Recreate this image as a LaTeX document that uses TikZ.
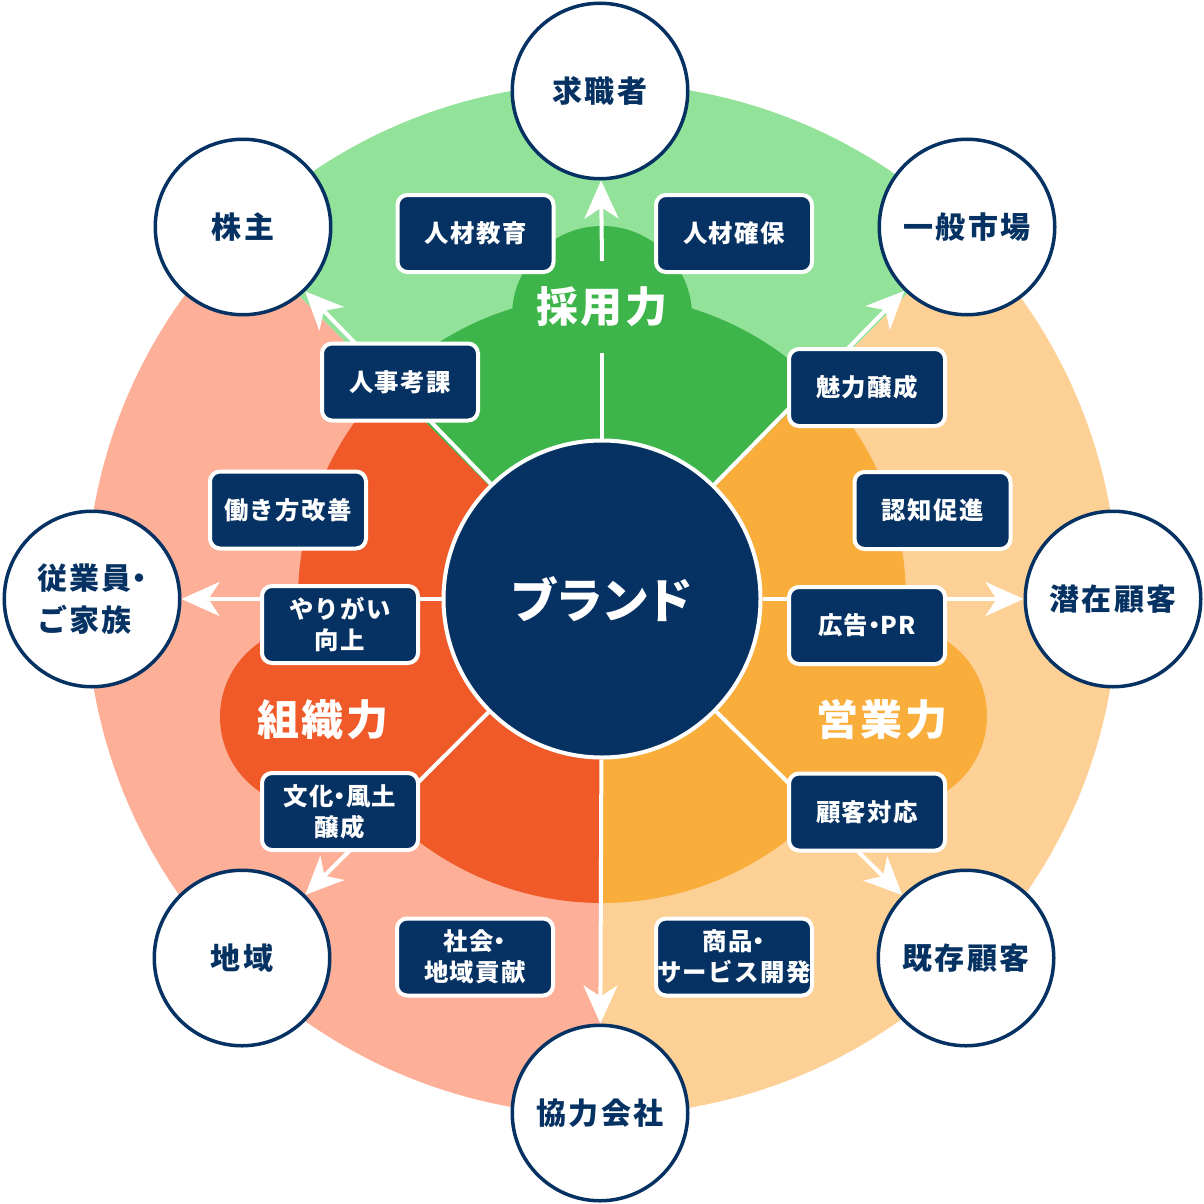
\documentclass[tikz,border=0pt]{standalone}
\usepackage{fontspec}
\setmainfont{Noto Sans CJK JP}
\newfontfamily\jp{Noto Sans CJK JP}[LetterSpace=6]
\newfontfamily\jpwide{Noto Sans CJK JP}[LetterSpace=8]
\newfontfamily\jpbrand{Noto Sans CJK JP}[RawFeature=+palt,LetterSpace=4]
\newcommand\nrdot{\kern-0.25em・\kern-0.25em}
\usetikzlibrary{arrows.meta}
\definecolor{navy}{RGB}{5,50,98}
\definecolor{lgreen}{RGB}{147,226,154}
\definecolor{dgreen}{RGB}{61,181,74}
\definecolor{lorange}{RGB}{253,208,149}
\definecolor{dorange}{RGB}{249,174,60}
\definecolor{lsalmon}{RGB}{253,175,152}
\definecolor{dred}{RGB}{240,90,40}
\tikzset{
  brandnode/.style={circle, fill=navy, draw=white, line width=2pt, minimum size=158.5pt, inner sep=0pt, text=white, font=\jpbrand\bfseries\fontsize{24}{28}\selectfont},
  outernode/.style={circle, fill=white, draw=navy, line width=1.75pt, minimum size=87.75pt, inner sep=0pt, text=navy, align=center, font=\jpwide\bfseries\fontsize{15}{21}\selectfont},
  boxnode/.style={rectangle, rounded corners=5pt, fill=navy, draw=white, line width=2pt, minimum width=78pt, minimum height=38.5pt, inner sep=0pt, text=white, align=center, font=\jp\bfseries\fontsize{12.2}{15.5}\selectfont},
  sectorlabel/.style={text=white, inner sep=0pt, font=\jp\bfseries\fontsize{21}{24}\selectfont},
  wline/.style={draw=white, line width=2pt},
  warrow/.style={draw=white, line width=2pt, -{Stealth[length=19pt, width=17pt, inset=5.5pt]}}
}
\begin{document}
\begin{tikzpicture}[x=0.5pt,y=0.5pt]
\useasboundingbox (0,0) rectangle (1204,-1204);
\fill[white] (0,0) rectangle (1204,-1204);
\coordinate (C) at (602,-599);
% outer ring sectors
\fill[lgreen] (C) -- ++(45:516) arc[start angle=45, end angle=135, radius=516] -- cycle;
\fill[lorange] (C) -- ++(-90:516) arc[start angle=-90, end angle=45, radius=516] -- cycle;
\fill[lsalmon] (C) -- ++(135:516) arc[start angle=135, end angle=270, radius=516] -- cycle;
% inner darker shapes
\fill[dgreen] (C) -- ++(45:304) arc[start angle=45, end angle=135, radius=304] -- cycle;
\fill[dgreen] (602,-316) circle[radius=90];
\fill[dorange] (C) -- ++(-90:304) arc[start angle=-90, end angle=45, radius=304] -- cycle;
\fill[dorange] (897,-716) circle[radius=90];
\fill[dred] (C) -- ++(135:304) arc[start angle=135, end angle=270, radius=304] -- cycle;
\fill[dred] (310,-717) circle[radius=90];
% nodes
\node[brandnode] (brand) at (C) {ブランド};
\node[outernode] (kyu) at (600,-91) {求職者};
\node[outernode] (kab) at (243,-227) {株主};
\node[outernode] (ippan) at (967,-227) {一般市場};
\node[outernode, align=left] (jugyo) at (92,-599) {従業員\nrdot\\ご家族};
\node[outernode] (senzai) at (1113,-599) {潜在顧客};
\node[outernode] (chiiki) at (242,-958) {地域};
\node[outernode] (kison) at (966,-958) {既存顧客};
\node[outernode] (kyoryoku) at (600,-1113) {協力会社};
\node[sectorlabel, minimum height=45.5pt] (saiyo) at (602,-307) {採用力};
\node[sectorlabel] (soshiki) at (323,-720) {組織力};
\node[sectorlabel] (eigyo) at (882,-720) {営業力};
% connectors
\draw[wline] (brand) -- (saiyo.south);
\draw[warrow] (saiyo.north) -- (kyu);
\draw[warrow] (brand) -- (kab);
\draw[warrow] (brand) -- (ippan);
\draw[warrow] (brand) -- (jugyo);
\draw[warrow] (brand) -- (senzai);
\draw[warrow] (brand) -- (chiiki);
\draw[warrow] (brand) -- (kison);
\draw[warrow] (brand) -- (kyoryoku);
% boxes
\node[boxnode] (b1) at (475.5,-233.5) {人材教育};
\node[boxnode] (b2) at (734,-233.5) {人材確保};
\node[boxnode] (b3) at (400,-382) {人事考課};
\node[boxnode] (b4) at (867,-387.5) {魅力醸成};
\node[boxnode] (b5) at (288,-510) {働き方改善};
\node[boxnode] (b6) at (932.5,-510.5) {認知促進};
\node[boxnode] (b7) at (340,-624.5) {やりがい\\向上};
\node[boxnode] (b8) at (867,-625.5) {広告\nrdot PR};
\node[boxnode] (b9) at (340,-811.5) {文化\nrdot 風土\\醸成};
\node[boxnode] (b10) at (867,-812) {顧客対応};
\node[boxnode] (b11) at (475,-957) {社会\nrdot\\地域貢献};
\node[boxnode] (b12) at (734,-957) {商品\nrdot\\サービス開発};
\end{tikzpicture}
\end{document}
